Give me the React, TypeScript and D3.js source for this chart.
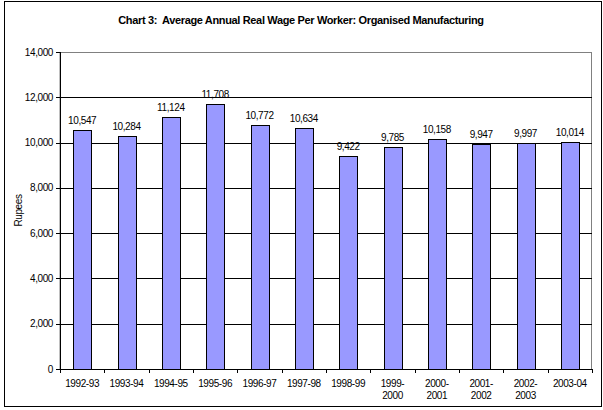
import React from "react";
import * as d3 from "d3";

const categories: string[][] = [
  ["1992-93"], ["1993-94"], ["1994-95"], ["1995-96"], ["1996-97"], ["1997-98"],
  ["1998-99"], ["1999-", "2000"], ["2000-", "2001"], ["2001-", "2002"], ["2002-", "2003"], ["2003-04"],
];
const values: number[] = [10547, 10284, 11124, 11708, 10772, 10634, 9422, 9785, 10158, 9947, 9997, 10014];
const yTicks: number[] = [0, 2000, 4000, 6000, 8000, 10000, 12000, 14000];
const title = "Chart 3:  Average Annual Real Wage Per Worker: Organised Manufacturing";
const yLabel = "Rupees";

export default function App() {
  const W = 603, H = 410;
  const left = 60, right = 592, top = 52, bottom = 369;
  const keys = categories.map((c) => c.join(" "));
  const x = d3.scaleBand<string>().domain(keys).range([left, right]).paddingInner(0.6).paddingOuter(0.3);
  const xOuter = d3.scaleBand<string>().domain(keys).range([left, right]);
  const y = d3.scaleLinear().domain([0, 14000]).range([bottom, top]);
  const fmt = d3.format(",");
  const font = "Arial, 'Liberation Sans', sans-serif";
  const ls = -0.4;
  return (
    <svg width={W} height={H} style={{ position: "absolute", left: 0, top: 0 }} fontFamily={font}>
      <rect x={0} y={0} width={W} height={H} fill="white" />
      <rect x={4.5} y={1.5} width={597} height={405} fill="white" stroke="black" strokeWidth={1} />
      <text x={301} y={24} textAnchor="middle" fontSize={11} fontWeight="bold" letterSpacing={-0.35} style={{ whiteSpace: "pre" }}>{title}</text>
      <rect x={left} y={top + 0.5} width={right - left - 0.5} height={bottom - top} fill="white" stroke="#808080" strokeWidth={1} />
      {yTicks.slice(1).map((t) => (
        <line key={t} x1={left} x2={right} y1={Math.round(y(t)) + 0.5} y2={Math.round(y(t)) + 0.5} stroke={t === 14000 ? "#808080" : "black"} strokeWidth={1} />
      ))}
      {yTicks.map((t) => (
        <g key={"yt" + t}>
          <line x1={left - 4} x2={left} y1={Math.round(y(t)) + 0.5} y2={Math.round(y(t)) + 0.5} stroke="black" />
          <text x={left - 7} y={y(t)} dy="0.35em" textAnchor="end" fontSize={10} letterSpacing={ls}>{fmt(t)}</text>
        </g>
      ))}
      <text transform={`translate(22,${(top + bottom) / 2}) rotate(-90)`} textAnchor="middle" fontSize={10} letterSpacing={ls}>{yLabel}</text>
      {values.map((v, i) => {
        const k = keys[i];
        const bx = x(k)!;
        const bw = x.bandwidth();
        return (
          <g key={k}>
            <rect x={Math.round(bx) + 0.5} y={Math.round(y(v)) + 0.5} width={Math.round(bw)} height={Math.round(bottom - y(v))} fill="#9999FF" stroke="black" strokeWidth={1} />
            <text x={bx + bw / 2} y={y(v) - 6} textAnchor="middle" fontSize={10} letterSpacing={ls}>{fmt(v)}</text>
          </g>
        );
      })}
      <line x1={left + 0.5} x2={left + 0.5} y1={top} y2={bottom + 4} stroke="black" />
      <line x1={left - 4} x2={right} y1={bottom + 0.5} y2={bottom + 0.5} stroke="black" />
      {keys.map((k, i) => {
        const xe = Math.round(xOuter(k)! + xOuter.bandwidth()) + 0.5;
        return <line key={"xt" + i} x1={xe} x2={xe} y1={bottom} y2={bottom + 4} stroke="black" />;
      })}
      {categories.map((c, i) => {
        const cx = xOuter(keys[i])! + xOuter.bandwidth() / 2;
        return (
          <text key={"xl" + i} x={cx} y={bottom + 18} textAnchor="middle" fontSize={10} letterSpacing={ls}>
            {c.map((line, j) => (
              <tspan key={j} x={cx} dy={j === 0 ? 0 : 12}>{line}</tspan>
            ))}
          </text>
        );
      })}
    </svg>
  );
}
